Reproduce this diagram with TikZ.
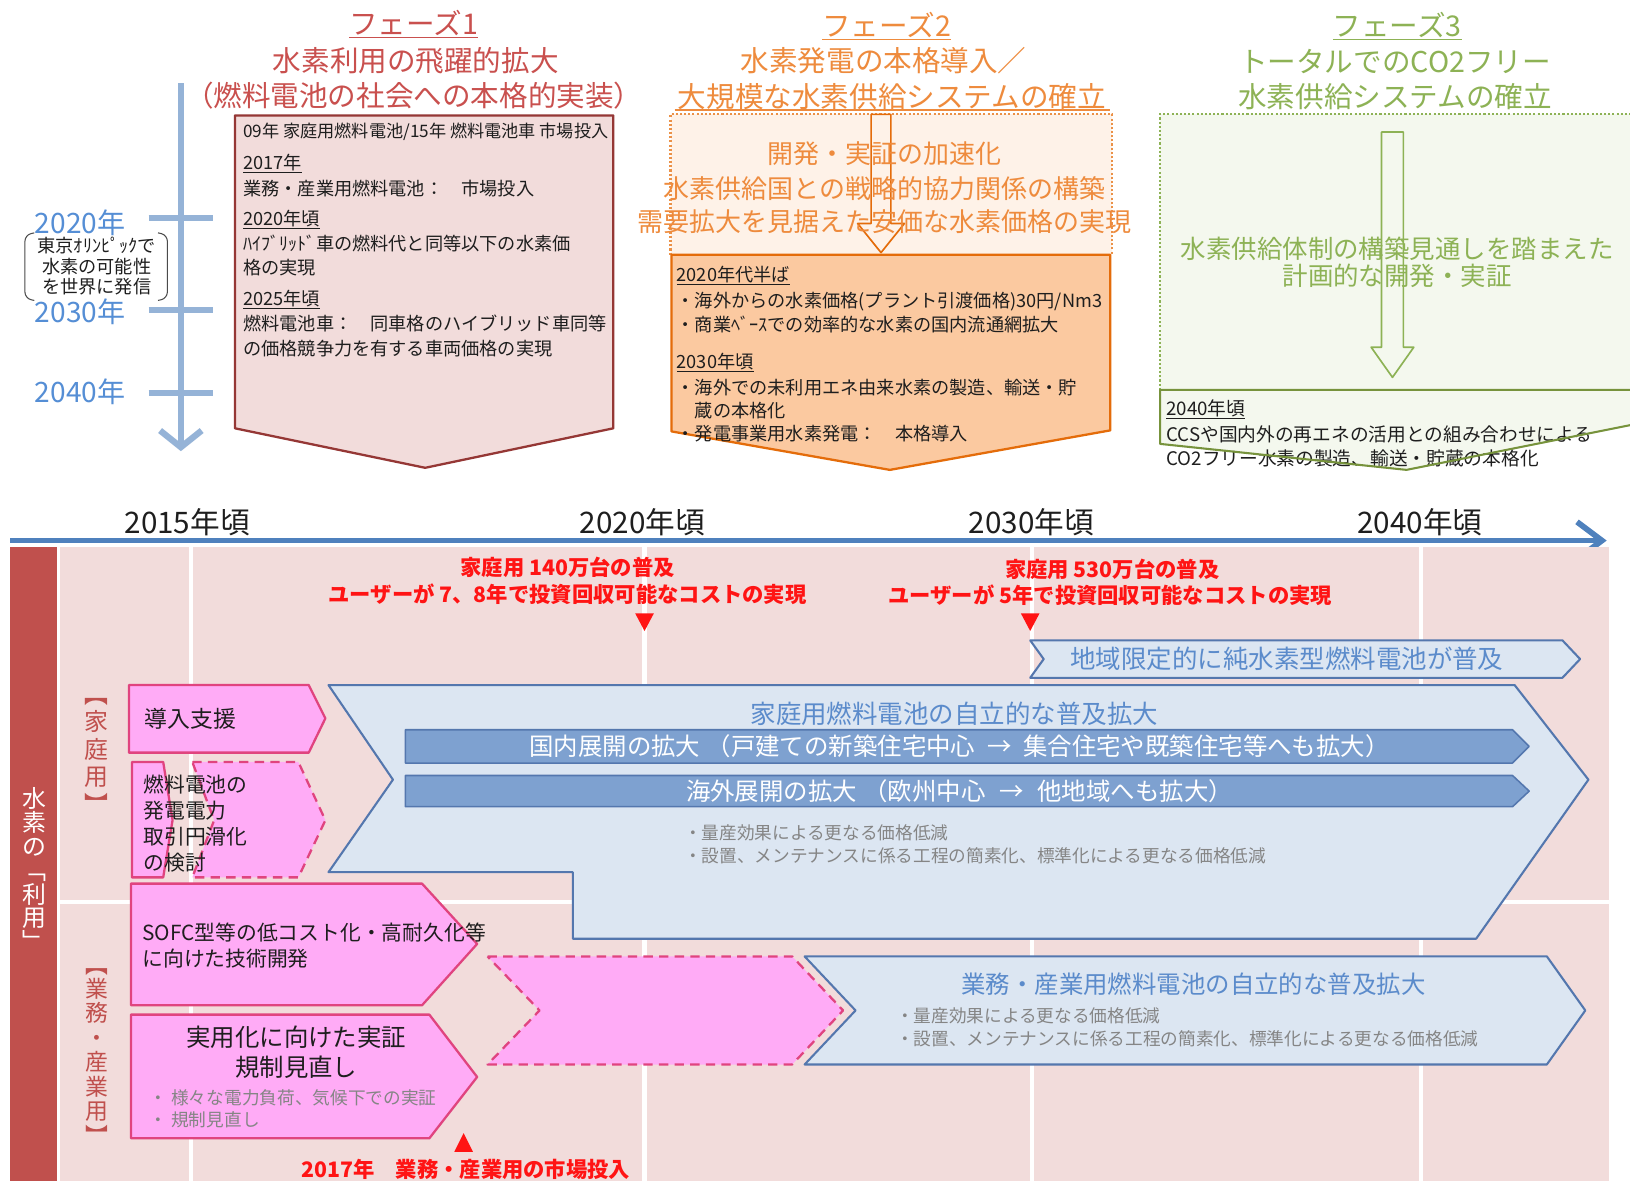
\documentclass[tikz,border=0pt]{standalone}
\usepackage{fontspec}
\setmainfont{Noto Sans CJK JP}
\usetikzlibrary{arrows.meta}
\newcommand{\jfs}[1]{\fontsize{#1}{#1}\selectfont}
\definecolor{pOne}{HTML}{C9504E}
\definecolor{pOneBox}{HTML}{F2DCDB}
\definecolor{pOneLine}{HTML}{953735}
\definecolor{pTwo}{HTML}{EE8B3D}
\definecolor{pTwoFill}{HTML}{FBC9A0}
\definecolor{pTwoLine}{HTML}{E46C0A}
\definecolor{pTwoPale}{HTML}{FEF2E8}
\definecolor{pThree}{HTML}{8DB255}
\definecolor{pThreeLine}{HTML}{77933C}
\definecolor{pThreePale}{HTML}{F4F8EE}
\definecolor{tlBlue}{HTML}{95B3D7}
\definecolor{yrBlue}{HTML}{558ED5}
\definecolor{axisBlue}{HTML}{4F81BD}
\definecolor{bgPink}{HTML}{F2DCDB}
\definecolor{barRed}{HTML}{C0504D}
\definecolor{boxPink}{HTML}{FFABF6}
\definecolor{pinkLine}{HTML}{E0447F}
\definecolor{chevFill}{HTML}{DCE6F2}
\definecolor{chevLine}{HTML}{5477AE}
\definecolor{barFill}{HTML}{7EA1D0}
\definecolor{chevText}{HTML}{5B8BCB}
\definecolor{grayText}{HTML}{858585}
\definecolor{redText}{HTML}{FF1414}
\definecolor{darkText}{HTML}{1E1E1E}
\tikzset{
  every node/.style={inner sep=0pt,outer sep=0pt},
  hdrA/.style={text=pOne,font=\jfs{27.5}},
  hdrB/.style={text=pTwo,font=\jfs{27.5}},
  hdrC/.style={text=pThree,font=\jfs{27.5}},
  bt/.style={anchor=west,text=darkText,font=\jfs{17.5}},
  lyr/.style={text=yrBlue,font=\jfs{27}},
  axyr/.style={text=darkText,font=\jfs{28.5}},
  redtxt/.style={text=redText,font=\bfseries\jfs{20.5}},
  pinkbox/.style={fill=boxPink,draw=pinkLine,line width=2.2pt,line join=round},
  pinkdash/.style={pinkbox,dash pattern=on 9pt off 6pt},
  chevbox/.style={fill=chevFill,draw=chevLine,line width=2pt,line join=round},
  barbox/.style={fill=barFill,draw=chevLine,line width=1.5pt,line join=round},
  graytxt/.style={anchor=west,text=grayText,font=\jfs{17}},
  blacktxt/.style={text=darkText},
}
\begin{document}
\begin{tikzpicture}[x=1pt,y=-1pt]
\useasboundingbox (0,0) rectangle (1568,1136);
\fill[white] (0,0) rectangle (1568,1136);

% ===== left timeline =====
\coordinate (tlS) at (174,80);
\coordinate (tlE) at (174,434);
\draw[tlBlue,line width=6pt,-{Straight Barb[length=16pt,width=40pt]}] (tlS) -- (tlE);
\foreach \yy in {210,298,378} \draw[tlBlue,line width=6pt] (143,\yy) -- (205,\yy);
\node[lyr] (ly20) at (77,214) {2020年};
\node[lyr] (ly30) at (77,300) {2030年};
\node[lyr] (ly40) at (77,377) {2040年};
\node[align=center,text=darkText,font=\fontsize{17.5}{19.5}\selectfont] (olym) at (93,256) {東京ｵﾘﾝﾋﾟｯｸで\\水素の可能性\\を世界に発信};
\draw[darkText!80,line width=1pt,rounded corners=6pt] (33,224) -- (24,226) -- (24,287) -- (33,289);
\draw[darkText!80,line width=1pt,rounded corners=6pt] (152,224) -- (161,226) -- (161,287) -- (152,289);

% ===== Phase 1 =====
\node[hdrA] (p1a) at (398,22) {フェーズ1};
\draw[pOne,line width=1.4pt] ([yshift=-3pt]p1a.base west) -- ([yshift=-3pt]p1a.base east);
\node[hdrA] (p1b) at (400,58) {水素利用の飛躍的拡大};
\node[hdrA] (p1c) at (398,92) {（燃料電池の社会への本格的実装）};
\draw[fill=pOneBox,draw=pOneLine,line width=2.2pt,line join=round] (226,111) -- (590,111) -- (590,412) -- (409,450) -- (226,412) -- cycle;
\node[bt,font=\jfs{16.5}] (b1l1) at (234,127) {09年 家庭用燃料電池/15年 燃料電池車 市場投入};
\node[bt] (b1l2) at (234,157) {\underline{2017年}};
\node[bt] (b1l3) at (234,181) {業務・産業用燃料電池：　市場投入};
\node[bt] (b1l4) at (234,211) {\underline{2020年頃}};
\node[bt] (b1l5) at (234,234) {ﾊｲﾌﾞﾘｯﾄﾞ車の燃料代と同等以下の水素価};
\node[bt] (b1l6) at (234,257) {格の実現};
\node[bt] (b1l7) at (234,288) {\underline{2025年頃}};
\node[bt] (b1l8) at (234,311) {燃料電池車：　同車格のハイブリッド車同等};
\node[bt] (b1l9) at (234,335) {の価格競争力を有する車両価格の実現};

% ===== Phase 2 =====
\node[hdrB] (p2a) at (853,24) {フェーズ2};
\draw[pTwo,line width=1.4pt] ([yshift=-3pt]p2a.base west) -- ([yshift=-3pt]p2a.base east);
\node[hdrB] (p2b) at (850,58) {水素発電の本格導入／};
\node[hdrB] (p2c) at (858,93) {大規模な水素供給システムの確立};
\draw[pTwo,line width=1.4pt] (649,106) -- (1068,106);
\fill[pTwoPale] (645,110) rectangle (1070,245);
\draw[pTwoLine!75,line width=2pt,dotted] (645,245) -- (645,110) -- (1070,110) -- (1070,245);
\draw[pTwoLine,line width=1.6pt,line join=round] (838,110) -- (857,110) -- (857,215) -- (870,215) -- (847.5,243) -- (825,215) -- (838,215) -- cycle;
\node[text=pTwo,font=\jfs{25}] (p2m1) at (851,148) {開発・実証の加速化};
\node[text=pTwo,font=\jfs{25}] (p2m2) at (851,181) {水素供給国との戦略的協力関係の構築};
\node[text=pTwo,font=\jfs{25}] (p2m3) at (851,213) {需要拡大を見据えた安価な水素価格の実現};
\draw[fill=pTwoFill,draw=pTwoLine,line width=2.2pt,line join=round] (646,245) -- (1068,245) -- (1068,414) -- (856,452) -- (646,415) -- cycle;
\node[bt] (b2l1) at (651,265) {\underline{2020年代半ば}};
\node[bt] (b2l2) at (651,290) {・海外からの水素価格(プラント引渡価格)30円/Nm3};
\node[bt] (b2l3) at (651,312) {・商業ﾍﾞｰｽでの効率的な水素の国内流通網拡大};
\node[bt] (b2l4) at (651,349) {\underline{2030年頃}};
\node[bt] (b2l5) at (651,373) {・海外での未利用エネ由来水素の製造、輸送・貯};
\node[bt] (b2l6) at (651,395) {　蔵の本格化};
\node[bt] (b2l7) at (651,417) {・発電事業用水素発電：　本格導入};

% ===== Phase 3 =====
\node[hdrC] (p3a) at (1344,24) {フェーズ3};
\draw[pThree,line width=1.4pt] ([yshift=-3pt]p3a.base west) -- ([yshift=-3pt]p3a.base east);
\node[hdrC] (p3b) at (1342,59) {トータルでのCO2フリー};
\node[hdrC] (p3c) at (1342,93) {水素供給システムの確立};
\fill[pThreePale] (1116,110) rectangle (1568,375);
\draw[pThree,line width=2pt,dotted] (1116,375) -- (1116,110) -- (1568,110);
\draw[pThree,line width=1.6pt,line join=round] (1329,127) -- (1350,127) -- (1350,334) -- (1360,334) -- (1339.5,363) -- (1319,334) -- (1329,334) -- cycle;
\node[text=pThree,font=\jfs{24.5}] (p3m1) at (1344,239) {水素供給体制の構築見通しを踏まえた};
\node[text=pThree,font=\jfs{24.5}] (p3m2) at (1344,265) {計画的な開発・実証};
\fill[pThreePale] (1116,375) -- (1568,375) -- (1568,409) -- (1353,452) -- (1116,427) -- cycle;
\node[bt,font=\jfs{18}] (b3l1) at (1122,394) {\underline{2040年頃}};
\node[bt,font=\jfs{18}] (b3l2) at (1122,418) {CCSや国内外の再エネの活用との組み合わせによる};
\node[bt,font=\jfs{18}] (b3l3) at (1122,441) {CO2フリー水素の製造、輸送・貯蔵の本格化};
\draw[pThreeLine,line width=2pt,line join=round] (1568,375) -- (1116,375) -- (1116,427) -- (1353,452) -- (1568,409);

% ===== Bottom roadmap =====
\node[axyr] (ax15) at (180,502) {2015年頃};
\node[axyr] (ax20) at (618,502) {2020年頃};
\node[axyr] (ax30) at (992,502) {2030年頃};
\node[axyr] (ax40) at (1366,502) {2040年頃};
\coordinate (axS) at (10,520);
\coordinate (axE) at (1541,520);
\coordinate (axU) at (1517,502);
\coordinate (axD) at (1517,538);
\draw[axisBlue,line width=5pt] (axS) -- (axE);
\draw[axisBlue,line width=5.5pt,line join=miter] (axU) -- (axE) -- (axD);

\fill[bgPink] (58,526) rectangle (1548,1136);
\fill[barRed] (10,526) rectangle (55,1136);
\foreach \xx in {184,620,993,1367} \draw[white,line width=4pt] (\xx,526) -- (\xx,1136);
\draw[white,line width=4pt] (58,868) -- (1548,868);

\node[align=center,text=white,font=\fontsize{23}{23}\selectfont] (vUse) at (33,836) {水\\素\\の\\﹁\\利\\用\\﹂};
\node[align=center,text=barRed,font=\fontsize{23}{26.5}\selectfont] (vHome) at (93,727) {︻\\家\\庭\\用\\︼};
\node[align=center,text=barRed,font=\fontsize{22}{23.5}\selectfont] (vBiz) at (93,1016) {︻\\業\\務\\・\\産\\業\\用\\︼};

% red milestones
\node[redtxt] (r1a) at (546,546) {家庭用 140万台の普及};
\node[redtxt] (r1b) at (546,572) {ユーザーが 7、8年で投資回収可能なコストの実現};
\fill[redText] (611,590) -- (629,590) -- (620,607) -- cycle;
\node[redtxt] (r2a) at (1070,548) {家庭用 530万台の普及};
\node[redtxt] (r2b) at (1068,573) {ユーザーが 5年で投資回収可能なコストの実現};
\fill[redText] (982,590) -- (1000,590) -- (991,607) -- cycle;

% regional chevron
\draw[chevbox] (991,616) -- (1503,616) -- (1520,634) -- (1503,652) -- (991,652) -- (1004,634) -- cycle;
\node[text=chevText,font=\jfs{24.5}] (reg) at (1238,634) {地域限定的に純水素型燃料電池が普及};

% household big chevron
\draw[chevbox] (316,659) -- (1457,659) -- (1528,750) -- (1420,903) -- (551,903) -- (551,839) -- (316,839) -- (378,750) -- cycle;
\node[text=chevText,font=\jfs{24.5}] (hhT) at (918,687) {家庭用燃料電池の自立的な普及拡大};
\draw[barbox] (390,702) -- (1455,702) -- (1471,718) -- (1455,734) -- (390,734) -- cycle;
\draw[barbox] (390,746) -- (1455,746) -- (1471,761) -- (1455,776) -- (390,776) -- cycle;
\node[text=white,font=\jfs{23.5}] (bar1) at (923,718) {国内展開の拡大\hspace{6pt}（戸建ての新築住宅中心\hspace{6pt} → \hspace{6pt}集合住宅や既築住宅等へも拡大）};
\node[text=white,font=\jfs{23.5}] (bar2) at (923,761) {海外展開の拡大\hspace{6pt}（欧州中心\hspace{8pt} → \hspace{8pt}他地域へも拡大）};
\node[graytxt] (hhB1) at (658,801) {・量産効果による更なる価格低減};
\node[graytxt] (hhB2) at (658,823) {・設置、メンテナンスに係る工程の簡素化、標準化による更なる価格低減};

% household pink boxes
\draw[pinkbox] (124,659) -- (297,659) -- (313,691) -- (297,724) -- (124,724) -- cycle;
\node[anchor=west,blacktxt,font=\jfs{22}] (intro) at (139,691) {導入支援};
\draw[pinkbox] (127,733) -- (157,733) -- (166,789) -- (157,844) -- (127,844) -- cycle;
\draw[pinkdash] (185,733) -- (287,733) -- (313,789) -- (287,844) -- (185,844) -- (206,789) -- cycle;
\node[anchor=west,align=left,blacktxt,font=\fontsize{20}{25}\selectfont] (trade) at (138,792) {燃料電池の\\発電電力\\取引円滑化\\の検討};

% business
\draw[pinkbox] (126,850) -- (406,850) -- (459,908) -- (406,967) -- (126,967) -- cycle;
\node[anchor=west,blacktxt,font=\jfs{20}] (sofc1) at (137,897) {SOFC型等の低コスト化・高耐久化等};
\node[anchor=west,blacktxt,font=\jfs{20}] (sofc2) at (137,922) {に向けた技術開発};
\draw[pinkbox] (126,976) -- (413,976) -- (459,1036) -- (413,1095) -- (126,1095) -- cycle;
\node[blacktxt,font=\jfs{23.5}] (jit1) at (285,998) {実用化に向けた実証};
\node[blacktxt,font=\jfs{23.5}] (jit2) at (285,1027) {規制見直し};
\node[graytxt] (jitB1) at (144,1056) {・ 様々な電力負荷、気候下での実証};
\node[graytxt] (jitB2) at (144,1077) {・ 規制見直し};
\draw[chevbox] (774,920) -- (1488,920) -- (1525,972) -- (1488,1024) -- (774,1024) -- (823,972) -- cycle;
\draw[pinkdash] (469,920) -- (762,920) -- (811,972) -- (762,1024) -- (469,1024) -- (519,972) -- cycle;
\node[text=chevText,font=\jfs{23.5}] (bizT) at (1148,947) {業務・産業用燃料電池の自立的な普及拡大};
\node[graytxt] (bizB1) at (862,977) {・量産効果による更なる価格低減};
\node[graytxt] (bizB2) at (862,999) {・設置、メンテナンスに係る工程の簡素化、標準化による更なる価格低減};

\fill[redText] (437,1108) -- (455,1108) -- (446,1090) -- cycle;
\node[redtxt,font=\bfseries\jfs{20.5}] (r3) at (448,1125) {2017年　業務・産業用の市場投入};
\end{tikzpicture}
\end{document}
